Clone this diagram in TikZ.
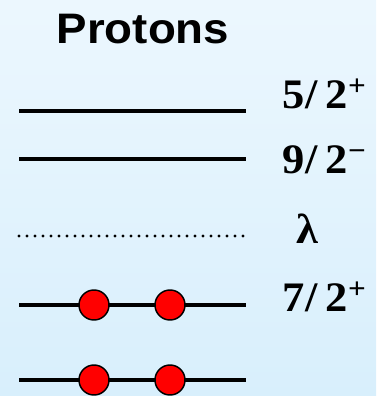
\documentclass[tikz,border=0pt]{standalone}
\usepackage{fontspec}
\setmainfont{Liberation Serif}
\newfontfamily\headfont{Liberation Sans}
\usetikzlibrary{positioning}
\definecolor{lvlInk}{HTML}{000000}
\definecolor{lvlRed}{HTML}{FF0000}
\definecolor{lvlSkyTop}{HTML}{ECF7FE}
\definecolor{lvlSkyBot}{HTML}{D8EFFC}
\tikzset{
  level line/.style={draw=lvlInk, line width=2.7pt},
  level dots/.style={draw=lvlInk, line width=2.6pt, line cap=round,
    dash pattern=on 0pt off 6pt},
  pair dot/.style={circle, draw=lvlInk, fill=lvlRed, line width=1.1pt,
    minimum size=22.5pt, inner sep=0pt},
  spin label/.style={font=\bfseries\fontsize{31.5}{31.5}\selectfont, xscale=1.06,
    anchor=base west, inner sep=0pt},
  head label/.style={font=\headfont\bfseries\fontsize{32}{32}\selectfont,
    xscale=1.07, anchor=base, inner sep=0pt}
}

\begin{document}
\begin{tikzpicture}[x=0.75pt,y=-0.75pt]
  \shade[top color=lvlSkyTop, bottom color=lvlSkyBot] (0,0) rectangle (376,396);
  \useasboundingbox (0,0) rectangle (376,396);

  \node[head label] (head) at (143,43) {Protons};

  % levels, top to bottom
  \coordinate (l1a) at (19,111);  \coordinate (l1b) at (246,111);
  \coordinate (l2a) at (19,159);  \coordinate (l2b) at (246,159);
  \coordinate (l3a) at (19,236);  \coordinate (l3b) at (246,236);
  \coordinate (l4a) at (19,305);  \coordinate (l4b) at (246,305);
  \coordinate (l5a) at (19,380);  \coordinate (l5b) at (246,380);

  \draw[level line] (l1a) -- (l1b);
  \draw[level line] (l2a) -- (l2b);
  \draw[level dots] (l3a) -- (l3b);
  \draw[level line] (l4a) -- (l4b);
  \draw[level line] (l5a) -- (l5b);

  % occupied pairs
  \node[pair dot] (p4a) at (94,305) {};
  \node[pair dot] (p4b) at (170,305) {};
  \node[pair dot] (p5a) at (94,380) {};
  \node[pair dot] (p5b) at (170,380) {};

  \node[spin label] (s1) at (282,108) {5\kern1pt/\,2\textsuperscript{+}};
  \node[spin label] (s2) at (282,173) {9\kern1pt/\,2\textsuperscript{−}};
  \node[spin label] (s3) at (296,243) {λ};
  \node[spin label] (s4) at (282,311) {7\kern1pt/\,2\textsuperscript{+}};
\end{tikzpicture}
\end{document}
